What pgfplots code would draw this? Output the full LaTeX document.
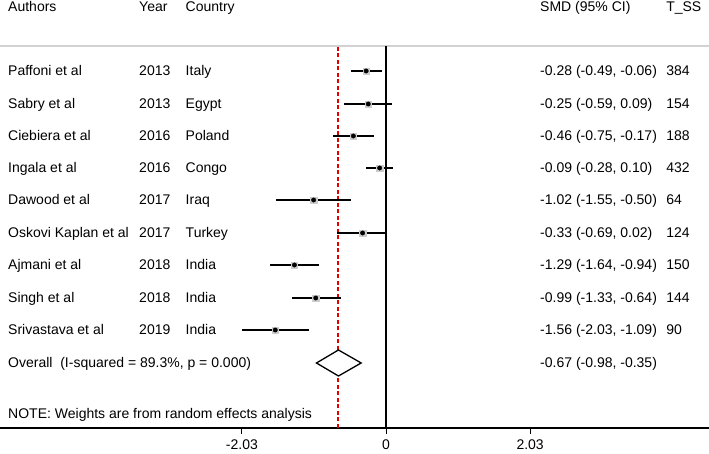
\documentclass[border=0pt]{standalone}
\usepackage{pgfplots}
\pgfplotsset{compat=1.18}
\usepackage{pgfplotstable}
\usepackage{fontspec}
\setmainfont{Liberation Sans}
\pgfplotstableread{
y   est    lo     hi
357 -0.28 -0.49 -0.06
324 -0.25 -0.59  0.09
292 -0.46 -0.75 -0.17
260 -0.09 -0.28  0.10
228 -1.02 -1.55 -0.50
195 -0.33 -0.69  0.02
163 -1.29 -1.64 -0.94
130 -0.99 -1.33 -0.64
98  -1.56 -2.03 -1.09
}\studies
\tikzset{txt/.style={anchor=base west, inner sep=0pt, font=\fontsize{14}{17}\selectfont}}
\newcommand\frow[6]{%
  \node[txt] at (axis cs:-5.324,#1) {#2};
  \node[txt] at (axis cs:-3.479,#1) {#3};
  \node[txt] at (axis cs:-2.824,#1) {#4};
  \node[txt] at (axis cs:2.169,#1) {#5};
  \node[txt] at (axis cs:3.944,#1) {#6};
}
\begin{document}
\begin{tikzpicture}
\begin{axis}[
  scale only axis, width=709pt, height=428pt,
  xmin=-5.437, xmax=4.549, ymin=0, ymax=428,
  axis x line*=bottom, axis y line=none,
  x axis line style={line width=1.1pt, black},
  xtick={-2.03,0,2.03}, xticklabels={-2.03,0,2.03}, ytick=\empty,
  tick align=outside, major tick length=6pt,
  tick style={black, line width=1pt},
  xticklabel style={font=\fontsize{14}{17}\selectfont, yshift=-2.5pt},
  /pgf/number format/assume math mode=true,
  clip=false,
]
\coordinate (bl) at (rel axis cs:0,0);
\coordinate (tr) at (rel axis cs:1,1);
% gray header rule
\addplot[gray!35, line width=1.3pt, mark=none] coordinates {(-5.437,382) (4.549,382)};
% null line
\addplot[black, line width=1.1pt, mark=none] coordinates {(0,0) (0,382)};
% overall effect line
\addplot[red!90!black, line width=2pt, dash pattern=on 4pt off 2.5pt, mark=none] coordinates {(-0.67,0) (-0.67,382)};
% CIs
\addplot[only marks, mark=none, black,
  error bars/.cd, x dir=both, x explicit, error mark=none,
  error bar style={line width=1.3pt, black}]
  table[x=est, y=y, x error plus expr=\thisrow{hi}-\thisrow{est}, x error minus expr=\thisrow{est}-\thisrow{lo}] {\studies};
% weight squares
\addplot[only marks, mark=square*, mark size=3.2pt, mark options={fill=gray!40, draw=gray!40}] table[x=est, y=y] {\studies};
% point estimates
\addplot[only marks, mark=*, mark size=2.2pt, mark options={fill=black, draw=black}] table[x=est, y=y] {\studies};
% overall diamond
\addplot[black, line width=1.3pt, mark=none, fill=white] coordinates {(-0.98,65) (-0.67,78) (-0.35,65) (-0.67,52) (-0.98,65)} -- cycle;
% header
\frow{416}{Authors}{Year}{Country}{SMD (95\% CI)}{T\_SS}
\frow{352}{Paffoni et al}{2013}{Italy}{-0.28 (-0.49, -0.06)}{384}
\frow{319}{Sabry et al}{2013}{Egypt}{-0.25 (-0.59, 0.09)}{154}
\frow{287}{Ciebiera et al}{2016}{Poland}{-0.46 (-0.75, -0.17)}{188}
\frow{255}{Ingala et al}{2016}{Congo}{-0.09 (-0.28, 0.10)}{432}
\frow{223}{Dawood et al}{2017}{Iraq}{-1.02 (-1.55, -0.50)}{64}
\frow{190}{Oskovi Kaplan et al}{2017}{Turkey}{-0.33 (-0.69, 0.02)}{124}
\frow{158}{Ajmani et al}{2018}{India}{-1.29 (-1.64, -0.94)}{150}
\frow{125}{Singh et al}{2018}{India}{-0.99 (-1.33, -0.64)}{144}
\frow{93}{Srivastava et al}{2019}{India}{-1.56 (-2.03, -1.09)}{90}
\node[txt] at (axis cs:-5.324,60) {Overall\ \ (I-squared = 89.3\%, p = 0.000)};
\node[txt] at (axis cs:2.169,60) {-0.67 (-0.98, -0.35)};
\node[txt] at (axis cs:-5.324,9) {NOTE: Weights are from random effects analysis};
\end{axis}
\pgfresetboundingbox
\path (bl) ++(0,-26pt) rectangle (tr);
\end{tikzpicture}
\end{document}
